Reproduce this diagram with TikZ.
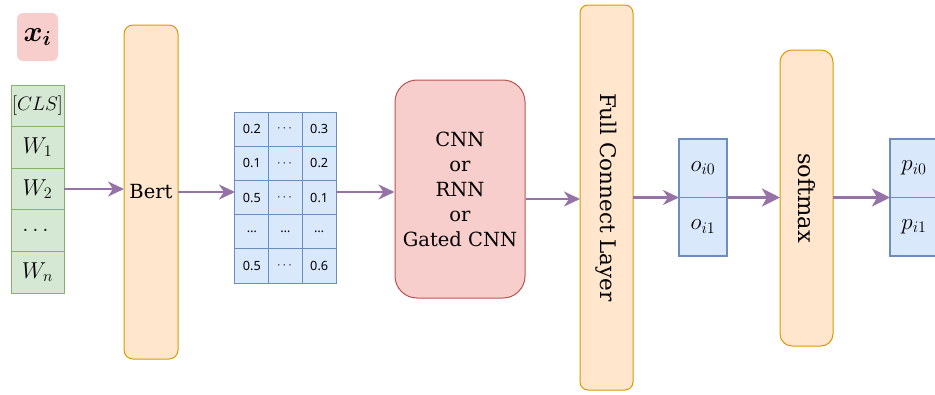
\RequirePackage{fix-cm}
\documentclass[tikz,border=0pt]{standalone}
\usepackage{amsmath}
\usepackage{fontspec}
\newfontfamily\dvs{DejaVu Serif}
\newfontfamily\nsans{Noto Sans}
\usetikzlibrary{arrows.meta}
\definecolor{grnF}{HTML}{D5E8D4}\definecolor{grnD}{HTML}{82B366}
\definecolor{bluF}{HTML}{DAE8FC}\definecolor{bluD}{HTML}{6C8EBF}
\definecolor{orgF}{HTML}{FFE6CC}\definecolor{orgD}{HTML}{D79B00}
\definecolor{redF}{HTML}{F8CECC}\definecolor{redD}{HTML}{B85450}
\definecolor{arrC}{HTML}{9673A6}
\newcommand\fsz[1]{\fontsize{#1}{25}\selectfont}
\newcommand\ld{\ldots}
\begin{document}
\begin{tikzpicture}[x=1pt,y=-1pt,
  cell/.style={draw, rectangle, inner sep=0pt, outer sep=0pt, line width=1pt},
  gcell/.style={cell, fill=grnF, draw=grnD, minimum width=53pt, minimum height=41.6pt},
  mcell/.style={cell, fill=bluF, draw=bluD, minimum width=33.67pt, minimum height=34.2pt, font=\nsans\fsz{12.7}},
  ocell/.style={cell, fill=bluF, draw=bluD, line width=1.5pt, minimum width=48pt, minimum height=58.5pt, font=\fsz{23}},
  obox/.style={rectangle, fill=orgF, draw=orgD, line width=1pt, inner sep=0pt, outer sep=0pt},
  arr/.style={draw=arrC, line width=2.5pt, -{Stealth[length=16pt,width=15pt,inset=5pt]}},
  tarr/.style={draw=arrC, line width=3.8pt, -{Stealth[length=18pt,width=18pt,inset=5pt]}}
]
\useasboundingbox (0,0) rectangle (935,394);
\clip (0,0) rectangle (935,394);
% x_i label
\node[rectangle, fill=redF, rounded corners=6pt, minimum width=41pt, minimum height=48pt, inner sep=0pt] (xi) at (37.5,37) {\fsz{29}$\boldsymbol{x_i}$};
% token column
\node[gcell] (g1) at (37.5,105.8) {\fsz{19.5}$[CLS]$};
\node[gcell] (g2) at (37.5,147.4) {\fsz{23}$W_1$};
\node[gcell] (g3) at (37.5,189.0) {\fsz{23}$W_2$};
\node[gcell] (g4) at (37.5,230.6) {\fsz{23}$\dots$};
\node[gcell] (g5) at (37.5,272.2) {\fsz{23}$W_n$};
% Bert
\node[obox, rounded corners=9pt, minimum width=54pt, minimum height=334pt, font=\dvs\fsz{19.5}] (bert) at (151,192) {Bert};
% matrix
\foreach \va/\vb/\vc [count=\i] in {0.2/$\cdots$/0.3, 0.1/$\cdots$/0.2, 0.5/$\cdots$/0.1, \ld/\ld/\ld, 0.5/$\cdots$/0.6}{
  \node[mcell] (m-\i-1) at (251.8,{112+17.1+34.2*(\i-1)}) {\va};
  \node[mcell] (m-\i-2) at (285.5,{112+17.1+34.2*(\i-1)}) {\vb};
  \node[mcell] (m-\i-3) at (319.2,{112+17.1+34.2*(\i-1)}) {\vc};
}
% CNN box
\node[rectangle, fill=redF, draw=redD, line width=1pt, rounded corners=22pt, minimum width=130pt, minimum height=218pt, inner sep=0pt, align=center, font=\dvs\fsz{19.5}] (cnn) at (460,189) {CNN\\or\\RNN\\or\\Gated CNN};
% Full connect
\node[obox, rounded corners=8pt, minimum width=53pt, minimum height=385pt] (fc) at (606.5,197.5) {};
\node[rotate=-90, font=\dvs\fsz{21.5}] (fct) at (fc.center) {Full Connect Layer};
% o box
\node[ocell] (o0) at (703,168.25) {$o_{i0}$};
\node[ocell] (o1) at (703,226.75) {$o_{i1}$};
% softmax
\node[obox, rounded corners=12pt, minimum width=53pt, minimum height=296pt] (sm) at (806.5,198) {};
\node[rotate=-90, font=\dvs\fsz{22.5}] (smt) at (sm.center) {softmax};
% p box
\node[ocell] (p0) at (914,168.25) {$p_{i0}$};
\node[ocell] (p1) at (914,226.75) {$p_{i1}$};
% arrows
\draw[arr] (g3.east) -- (bert.west |- g3.east);
\draw[arr] (bert.east) -- (m-3-1.west |- bert.east);
\draw[arr] (m-3-3.east |- bert.east) -- (cnn.west |- bert.east);
\coordinate (c1) at ([yshift=-10pt]cnn.east);
\draw[arr] (c1) -- (fc.west |- c1);
\draw[arr] (fc.east |- o0.south west) -- (o0.south west);
\draw[tarr] (o0.south east) -- (sm.west |- o0.south east);
\draw[tarr] (sm.east |- p0.south west) -- (p0.south west);
\end{tikzpicture}
\end{document}
